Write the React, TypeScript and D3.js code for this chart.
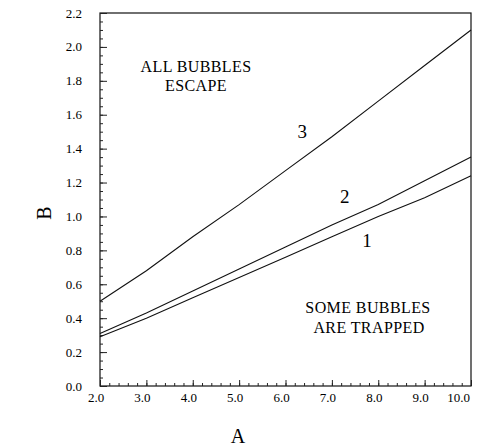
import React, { useRef, useEffect } from "react";
import * as d3 from "d3";

// values
const aValues = [2, 3, 4, 5, 6, 7, 8, 9, 10];
const curve1 = [0.29, 0.4, 0.52, 0.64, 0.76, 0.88, 1.0, 1.11, 1.24];
const curve2 = [0.31, 0.43, 0.56, 0.69, 0.82, 0.95, 1.07, 1.21, 1.35];
const curve3 = [0.5, 0.68, 0.88, 1.07, 1.27, 1.47, 1.68, 1.89, 2.1];
const xTicks = [2, 3, 4, 5, 6, 7, 8, 9, 10];
const yTicks = [0, 0.2, 0.4, 0.6, 0.8, 1.0, 1.2, 1.4, 1.6, 1.8, 2.0, 2.2];
const curveLabels = [
  { text: "3", a: 6.36, b: 1.46 },
  { text: "2", a: 7.28, b: 1.08 },
  { text: "1", a: 7.76, b: 0.82 },
];

const App = () => {
  const svgRef = useRef<SVGSVGElement>(null);

  useEffect(() => {
    const svg = d3.select(svgRef.current);
    svg.selectAll("*").remove();

    const left = 100,
      right = 471,
      top = 13,
      bottom = 386;

    const x = d3.scaleLinear().domain([2, 10]).range([left, right]);
    const y = d3.scaleLinear().domain([0, 2.2]).range([bottom, top]);

    // frame
    svg
      .append("rect")
      .attr("x", left)
      .attr("y", top)
      .attr("width", right - left)
      .attr("height", bottom - top)
      .attr("fill", "none")
      .attr("stroke", "#111")
      .attr("stroke-width", 1.2);

    // x axis, ticks pointing inward
    const gx = svg
      .append("g")
      .attr("transform", `translate(0, ${bottom})`)
      .call(d3.axisTop(x).tickValues(d3.range(2, 10.001, 0.2)).tickSize(3).tickFormat(() => ""));
    gx.select(".domain").remove();
    gx.selectAll("line").attr("stroke", "#222");

    const gx2 = svg
      .append("g")
      .attr("transform", `translate(0, ${bottom})`)
      .call(d3.axisTop(x).tickValues(xTicks).tickSize(6).tickFormat(() => ""));
    gx2.select(".domain").remove();
    gx2.selectAll("line").attr("stroke", "#222");

    // labels sit a little left of their ticks, the last one ends at the frame
    const lastX = xTicks[xTicks.length - 1];
    svg
      .append("g")
      .selectAll("text")
      .data(xTicks)
      .join("text")
      .attr("x", (d) => (d === lastX ? x(d) - 1 : x(d) - 4))
      .attr("y", bottom + 16)
      .attr("text-anchor", (d) => (d === lastX ? "end" : "middle"))
      .attr("font-size", 13)
      .text((d) => d.toFixed(1));

    // y axis
    const gy = svg
      .append("g")
      .attr("transform", `translate(${left}, 0)`)
      .call(d3.axisRight(y).tickValues(d3.range(0, 2.2001, 0.05)).tickSize(3).tickFormat(() => ""));
    gy.select(".domain").remove();
    gy.selectAll("line").attr("stroke", "#222");

    const gy2 = svg
      .append("g")
      .attr("transform", `translate(${left}, 0)`)
      .call(d3.axisRight(y).tickValues(yTicks).tickSize(7).tickFormat(() => ""));
    gy2.select(".domain").remove();
    gy2.selectAll("line").attr("stroke", "#222");

    svg
      .append("g")
      .selectAll("text")
      .data(yTicks)
      .join("text")
      .attr("x", left - 18)
      .attr("y", (d) => y(d) + 4.5)
      .attr("text-anchor", "end")
      .attr("font-size", 13)
      .text((d) => d.toFixed(1));

    // curves
    const line = d3
      .line<number>()
      .x((d, i) => x(aValues[i]))
      .y((d) => y(d));

    [curve1, curve2, curve3].forEach((c) => {
      svg
        .append("path")
        .datum(c)
        .attr("d", line)
        .attr("fill", "none")
        .attr("stroke", "#111")
        .attr("stroke-width", 1.1);
    });

    svg
      .append("g")
      .selectAll("text")
      .data(curveLabels)
      .join("text")
      .attr("x", (d) => x(d.a))
      .attr("y", (d) => y(d.b))
      .attr("text-anchor", "middle")
      .attr("font-size", 19)
      .text((d) => d.text);

    // region annotations
    const notes = [
      { text: "ALL BUBBLES", cx: 196, cy: 72 },
      { text: "ESCAPE", cx: 196, cy: 91 },
      { text: "SOME BUBBLES", cx: 368, cy: 313 },
      { text: "ARE TRAPPED", cx: 369, cy: 333 },
    ];
    svg
      .append("g")
      .selectAll("text")
      .data(notes)
      .join("text")
      .attr("x", (d) => d.cx)
      .attr("y", (d) => d.cy)
      .attr("text-anchor", "middle")
      .attr("font-size", 16)
      .attr("letter-spacing", 0.4)
      .text((d) => d.text);

    // axis titles
    svg
      .append("text")
      .attr("x", 238)
      .attr("y", 443)
      .attr("text-anchor", "middle")
      .attr("font-size", 20)
      .text("A");

    svg
      .append("text")
      .attr("transform", `translate(51, 213) rotate(-90)`)
      .attr("text-anchor", "middle")
      .attr("font-size", 20)
      .text("B");
  }, []);

  return (
    <svg
      ref={svgRef}
      width={478}
      height={447}
      style={{
        position: "absolute",
        left: 0,
        top: 0,
        background: "#fff",
        fontFamily: "'Liberation Serif', 'DejaVu Serif', serif",
      }}
    ></svg>
  );
};

export default App;
